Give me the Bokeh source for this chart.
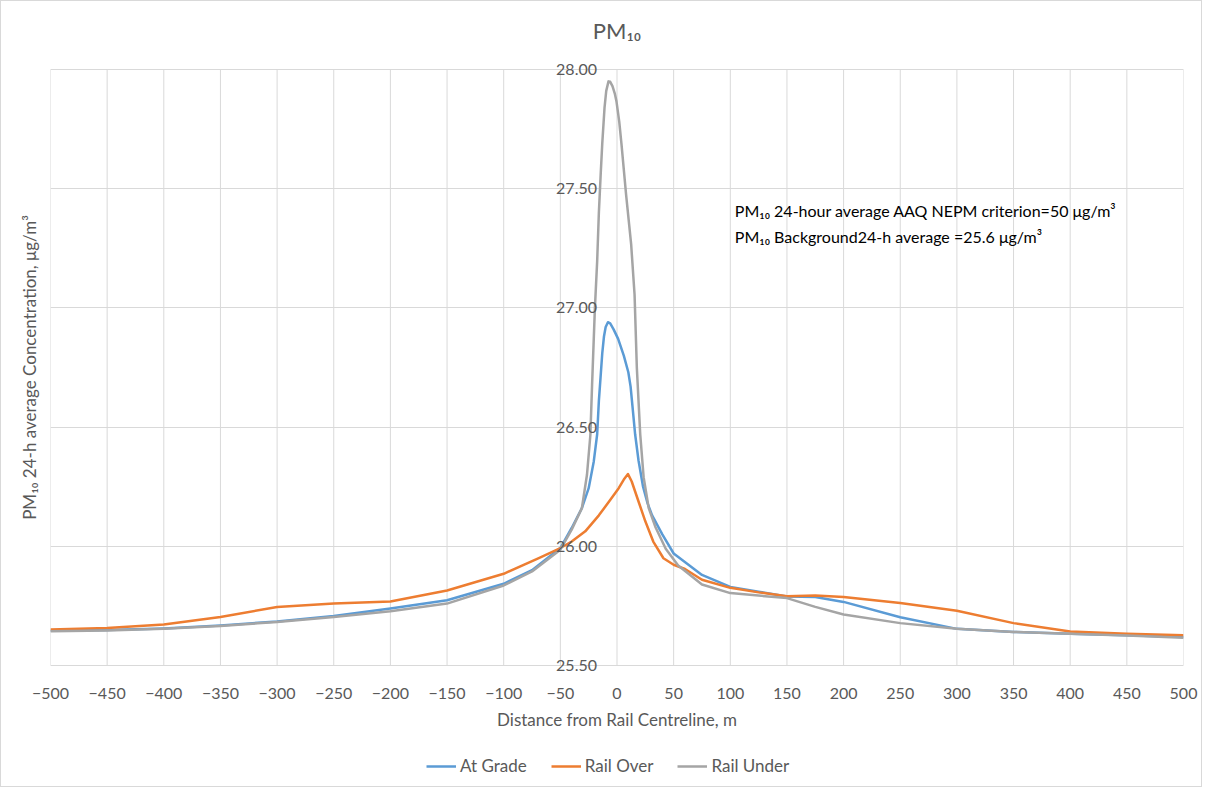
from bokeh.plotting import figure
from bokeh.layouts import column
from bokeh.models import (FixedTicker, NumeralTickFormatter, Legend, LegendItem,
                          Title, Label, Range1d)
from bokeh.embed import file_html
from bokeh.resources import INLINE

# ---------------- data ----------------
at_grade_x = [-500, -450, -400, -350, -300, -250, -200, -150, -100, -75, -50, -40, -31, -25,
              -20.5, -17.5, -16, -14.5, -13, -11.5, -10, -8, -6, -3, 1, 6, 10, 12, 14, 16, 19,
              23, 27, 31, 40, 50, 75, 100, 125, 150, 175, 200, 250, 300, 350, 400, 450, 500]
at_grade_y = [25.646, 25.649, 25.656, 25.668, 25.685, 25.708, 25.739, 25.774, 25.843, 25.900,
              25.993, 26.077, 26.160, 26.244, 26.356, 26.470, 26.610, 26.710, 26.810, 26.880,
              26.920, 26.940, 26.935, 26.910, 26.870, 26.800, 26.730, 26.670, 26.570, 26.470,
              26.360, 26.250, 26.180, 26.130, 26.050, 25.970, 25.880, 25.830, 25.810, 25.790,
              25.788, 25.767, 25.703, 25.654, 25.641, 25.633, 25.627, 25.620]

rail_over_x = [-500, -450, -400, -350, -300, -250, -200, -150, -100, -69, -50, -40, -28, -16,
               -7, 1.5, 6, 9.7, 13, 19, 25, 32, 41, 50, 60, 75, 100, 125, 150, 175, 200, 250,
               300, 350, 400, 450, 500]
rail_over_y = [25.651, 25.658, 25.672, 25.704, 25.746, 25.760, 25.769, 25.815, 25.885, 25.951,
               25.993, 26.020, 26.063, 26.130, 26.188, 26.244, 26.280, 26.303, 26.272, 26.188,
               26.105, 26.020, 25.950, 25.923, 25.905, 25.860, 25.826, 25.807, 25.791, 25.794,
               25.788, 25.762, 25.730, 25.678, 25.643, 25.633, 25.627]

rail_under_x = [-500, -450, -400, -350, -300, -250, -200, -150, -100, -75, -50, -40, -31, -26.5,
                -23.5, -22, -19.5, -17.5, -16, -14.4, -13, -11, -9.5, -7.5, -6, -4, -2, -0.5,
                2, 4, 8, 12.5, 15.5, 17.5, 20.5, 23.5, 28, 34, 43, 54, 75, 100, 150, 175, 200,
                250, 300, 350, 400, 450, 500]
rail_under_y = [25.644, 25.647, 25.654, 25.666, 25.683, 25.704, 25.728, 25.760, 25.836, 25.895,
                25.986, 26.070, 26.160, 26.300, 26.467, 26.676, 27.000, 27.196, 27.400, 27.560,
                27.690, 27.840, 27.910, 27.950, 27.948, 27.930, 27.900, 27.867, 27.780, 27.685,
                27.476, 27.266, 27.056, 26.750, 26.470, 26.290, 26.160, 26.080, 25.990, 25.920,
                25.840, 25.804, 25.783, 25.746, 25.714, 25.678, 25.654, 25.641, 25.633, 25.626,
                25.617]

series_names = ["At Grade", "Rail Over", "Rail Under"]
x_ticks = list(range(-500, 501, 50))
y_ticks = [25.5, 26.0, 26.5, 27.0, 27.5, 28.0]

title_text = "PM₁₀"
x_title = "Distance from Rail Centreline, m"
y_title = "PM₁₀ 24-h average Concentration, μg/m³"
note_lines = ["PM₁₀ 24-hour average AAQ NEPM criterion=50 μg/m³",
              "PM₁₀ Background24-h average =25.6 μg/m³"]
note_pos = [(104, 27.41), (104, 27.30)]

# ---------------- styling ----------------
FONT = "Lato"
GREY_TXT = "#595959"
GRID = "#d9d9d9"
colors = ["#5b9bd5", "#ed7d31", "#a5a5a5"]
PAD = 0.05  # room so that the end tick labels of the centre axis are not clipped

p = figure(width=1200, height=742, output_backend="svg", toolbar_location=None,
           x_range=Range1d(-500, 500),
           y_range=Range1d(y_ticks[0] - PAD, y_ticks[-1] + PAD),
           min_border_left=49, min_border_right=18, min_border_top=56, min_border_bottom=66)
p.outline_line_color = None
p.background_fill_color = "white"
p.border_fill_color = "white"

p.title.text = title_text
p.title.align = "center"
p.title.vertical_align = "middle"
p.title.standoff = 26
p.title.text_font = FONT
p.title.text_font_size = "22px"
p.title.text_font_style = "normal"
p.title.text_color = GREY_TXT

# x axis
xa = p.xaxis[0]
xa.ticker = FixedTicker(ticks=x_ticks)
xa.axis_line_color = None
xa.major_tick_line_color = None
xa.minor_tick_line_color = None
xa.major_label_text_font = FONT
xa.major_label_text_font_size = "16px"
xa.major_label_text_color = GREY_TXT
xa.major_label_standoff = 4
xa.axis_label = x_title
xa.axis_label_text_font = FONT
xa.axis_label_text_font_size = "17px"
xa.axis_label_text_font_style = "normal"
xa.axis_label_text_color = GREY_TXT
xa.axis_label_standoff = 7

# y axis crossing at x = 0
ya = p.yaxis[0]
ya.ticker = FixedTicker(ticks=y_ticks)
ya.formatter = NumeralTickFormatter(format="0.00")
ya.fixed_location = 0
ya.axis_line_color = None
ya.major_tick_line_color = None
ya.minor_tick_line_color = None
ya.major_label_text_font = FONT
ya.major_label_text_font_size = "16px"
ya.major_label_text_color = GREY_TXT
ya.major_label_standoff = 14

p.xgrid.visible = False
p.ygrid.ticker = FixedTicker(ticks=y_ticks)
p.ygrid.grid_line_color = GRID
# vertical grid lines spanning only the value range of the axis
p.segment(x0=x_ticks, y0=[y_ticks[0]] * len(x_ticks), x1=x_ticks,
          y1=[y_ticks[-1]] * len(x_ticks), line_color=GRID, line_width=1)

p.add_layout(Title(text=y_title, align="center", text_font=FONT, text_font_size="17px",
                   text_font_style="normal", text_color=GREY_TXT, standoff=22), "left")

# lines
r1 = p.line(at_grade_x, at_grade_y, line_color=colors[0], line_width=2.5, line_join="round")
r2 = p.line(rail_over_x, rail_over_y, line_color=colors[1], line_width=2.5, line_join="round")
r3 = p.line(rail_under_x, rail_under_y, line_color=colors[2], line_width=2.5, line_join="round")

for (nx, ny), t in zip(note_pos, note_lines):
    p.add_layout(Label(x=nx, y=ny, text=t, text_font=FONT, text_font_size="16px",
                       text_color="#000000", text_baseline="middle"))

# legend strip below the chart (its frame is aligned with the chart frame)
pl = figure(width=1200, height=43, output_backend="svg", toolbar_location=None,
            x_axis_location=None, y_axis_location=None,
            x_range=Range1d(0, 1), y_range=Range1d(0, 1),
            min_border_left=0, min_border_right=0, min_border_top=0, min_border_bottom=0)
pl.outline_line_color = None
pl.grid.visible = False
pl.border_fill_color = "white"
lr = [pl.line([-1, -1], [-1, -1], line_color=c, line_width=2.5) for c in colors]
legend = Legend(items=[LegendItem(label=n, renderers=[r]) for n, r in zip(series_names, lr)],
                orientation="horizontal", location=(376, 10),
                label_text_font=FONT, label_text_font_size="17px", label_text_color=GREY_TXT,
                border_line_color=None, background_fill_alpha=0,
                glyph_width=30, label_standoff=4, spacing=24, margin=0, padding=0)
pl.add_layout(legend, "center")

layout = column(p, pl, spacing=0, styles={"border": "1px solid #d9d9d9"})

open("out.html", "w").write(file_html(layout, INLINE))
